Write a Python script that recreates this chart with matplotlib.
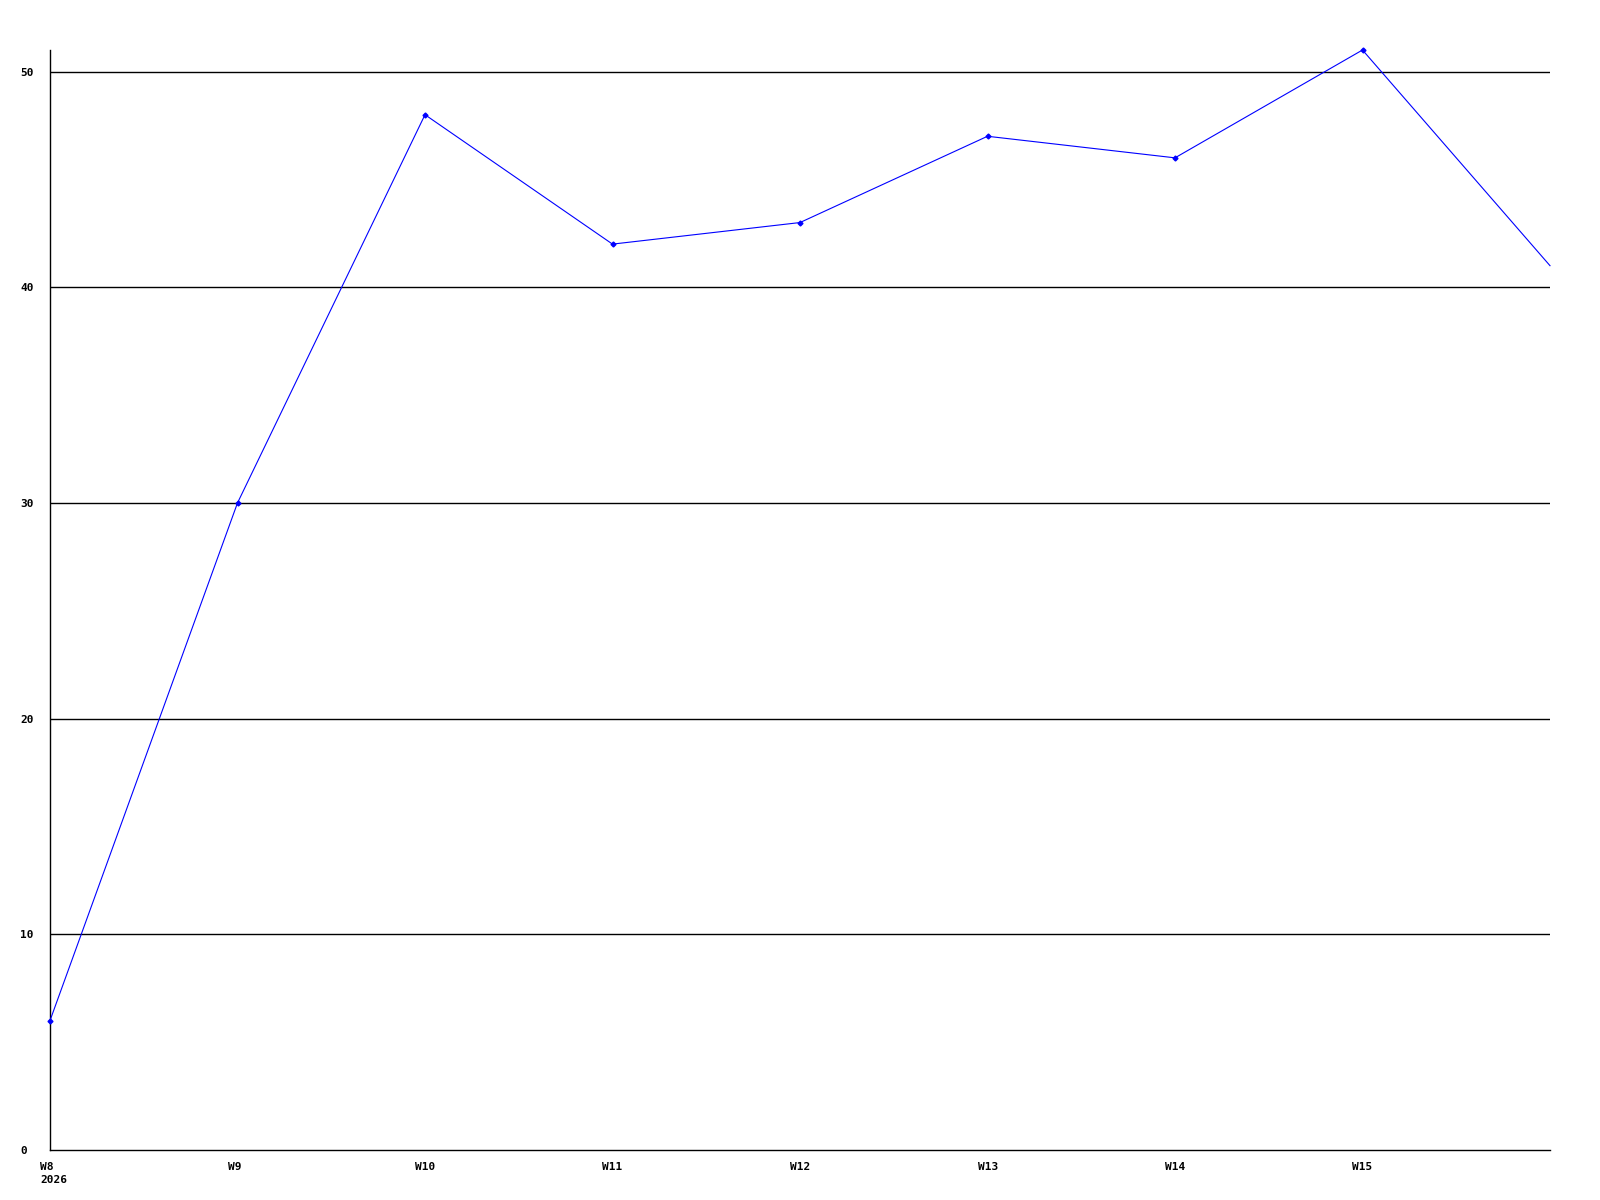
import matplotlib
matplotlib.use("Agg")
import matplotlib.pyplot as plt
import matplotlib.transforms as mtransforms

weeks = ["W8", "W9", "W10", "W11", "W12", "W13", "W14", "W15", "W16"]
values = [6, 30, 48, 42, 43, 47, 46, 51, 41]
tick_labels = ["W8\n2026", "W9", "W10", "W11", "W12", "W13", "W14", "W15", ""]
y_ticks = [0, 10, 20, 30, 40, 50]

fig = plt.figure(figsize=(16, 12), dpi=100)
ax = fig.add_axes([50/1600, 1 - 1150/1200, 1500/1600, 1100/1200])

x = list(range(len(weeks)))
ax.plot(x, values, color="#0000ff", linewidth=0.8, marker="D", markersize=2.5,
        markerfacecolor="#0000ff", markeredgecolor="#0000ff", zorder=3,
        markevery=list(range(len(weeks) - 1)), clip_on=False)

ax.set_xlim(0, len(weeks) - 1)
ax.set_ylim(0, 51)

for yv in y_ticks[1:]:
    ax.axhline(yv, color="black", linewidth=1.0, zorder=1)

for s in ["top", "right"]:
    ax.spines[s].set_visible(False)
for s in ["left", "bottom"]:
    ax.spines[s].set_color("black")
    ax.spines[s].set_linewidth(1.0)

font = dict(family="DejaVu Sans Mono", weight="bold", size=8)

ax.set_xticks(x)
ax.set_xticklabels(tick_labels, ha="left", va="top", linespacing=1.3, **font)
ax.set_yticks(y_ticks)
ax.set_yticklabels([str(v) for v in y_ticks], ha="left", **font)
ax.tick_params(axis="both", length=0)
ax.tick_params(axis="x", pad=9)
ax.tick_params(axis="y", pad=30 * 72 / 100)

off = mtransforms.ScaledTranslation(-10 / 100, 0, fig.dpi_scale_trans)
for lab in ax.get_xticklabels():
    lab.set_transform(lab.get_transform() + off)

fig.savefig("out.png", dpi=100, facecolor="white")
